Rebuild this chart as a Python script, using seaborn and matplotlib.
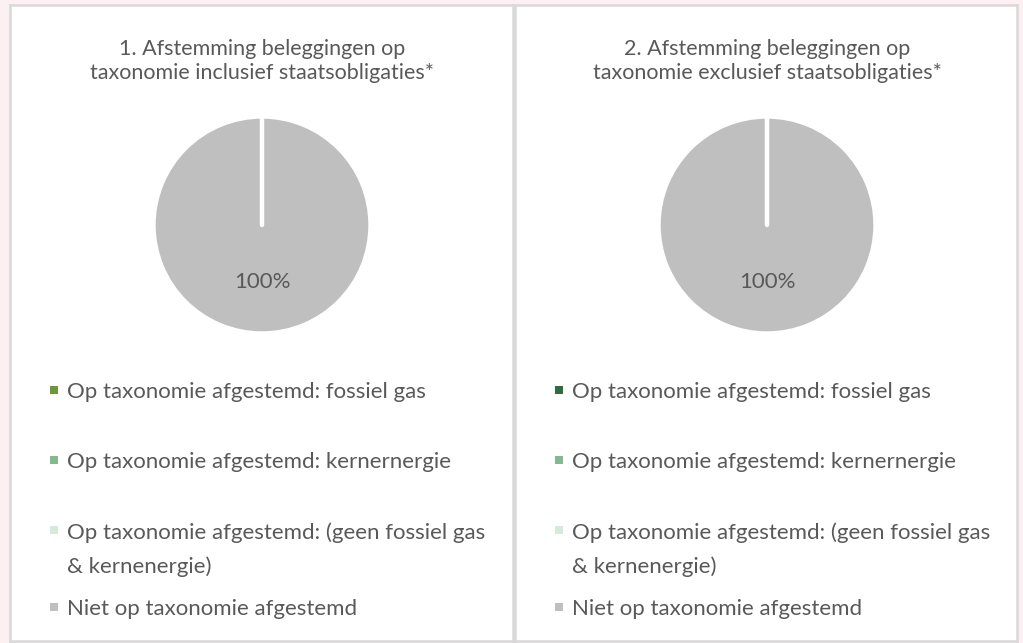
import matplotlib
matplotlib.use("Agg")
from matplotlib import pyplot as plt
from matplotlib.patches import Rectangle
import numpy as np
import seaborn as sns

# data
categories = [
    "Op taxonomie afgestemd: fossiel gas",
    "Op taxonomie afgestemd: kernernergie",
    "Op taxonomie afgestemd: (geen fossiel gas\n& kernenergie)",
    "Niet op taxonomie afgestemd",
]
incl_values = [0, 0, 0, 100]
excl_values = [0, 0, 0, 100]
titles = [
    "1. Afstemming beleggingen op\ntaxonomie inclusief staatsobligaties*",
    "2. Afstemming beleggingen op\ntaxonomie exclusief staatsobligaties*",
]
incl_colors = ["#70963b", "#84b88f", "#d6eadc", "#bfbfbf"]
excl_colors = ["#2f6b3c", "#84b88f", "#d6eadc", "#bfbfbf"]

sns.set_theme(style="white")
plt.rcParams["font.family"] = ["Lato", "DejaVu Sans"]

W, H = 1023, 643
fig = plt.figure(figsize=(W / 100, H / 100), dpi=100)
fig.patch.set_facecolor("#fdf0f3")
txt = "#595959"
fs = 16


def box(x0, y0, x1, y1):
    # pixel box (top-left origin) -> figure fraction rect
    return [x0 / W, (H - y1) / H, (x1 - x0) / W, (y1 - y0) / H]


def pct(v):
    return f"{v:.0f}%" if v > 0 else ""


panels = [(10, 513, 262, incl_values, incl_colors, titles[0]),
          (515, 1017, 767, excl_values, excl_colors, titles[1])]

for left, right, cx, values, colors, title in panels:
    pan = fig.add_axes(box(left, 5, right, 641))
    pan.set_facecolor("white")
    pan.set_xticks([])
    pan.set_yticks([])
    for s in pan.spines.values():
        s.set_color("#d9d9d9")
        s.set_linewidth(1.8)
    pan.set_xlim(left, right)
    pan.set_ylim(641, 5)

    pan.text(cx, 61, title, ha="center", va="center", fontsize=15.5,
             color=txt, linespacing=1.2)

    r = 107
    ax = fig.add_axes(box(cx - r, 225 - r, cx + r, 225 + r))
    wedges, _, _ = ax.pie(values, colors=colors, startangle=90, counterclock=False,
                          autopct=pct, pctdistance=0.53,
                          wedgeprops=dict(edgecolor="white", linewidth=1),
                          textprops=dict(color=txt, fontsize=fs))
    # white border line where the slices start
    big = max(wedges, key=lambda w: abs(w.theta2 - w.theta1))
    th = np.deg2rad(big.theta2)
    ax.plot([0, np.cos(th)], [0, np.sin(th)], color="white", lw=3.2,
            solid_capstyle="round", zorder=5)
    ax.set_xlim(-1, 1)
    ax.set_ylim(-1, 1)
    ax.set_aspect("equal")
    ax.axis("off")

    rows = [390, 460, 530, 607]
    for lab, col, y in zip(categories, colors, rows):
        pan.add_patch(Rectangle((left + 40, y - 4), 8, 8, facecolor=col,
                                edgecolor="none"))
        # baseline alignment uses the last line of a multi-line label
        extra = 35 * lab.count("\n")
        pan.text(left + 57, y + 8 + extra, lab, ha="left", va="baseline",
                 fontsize=fs, color=txt, linespacing=1.8)

fig.savefig("out.png", dpi=100, facecolor=fig.get_facecolor())
